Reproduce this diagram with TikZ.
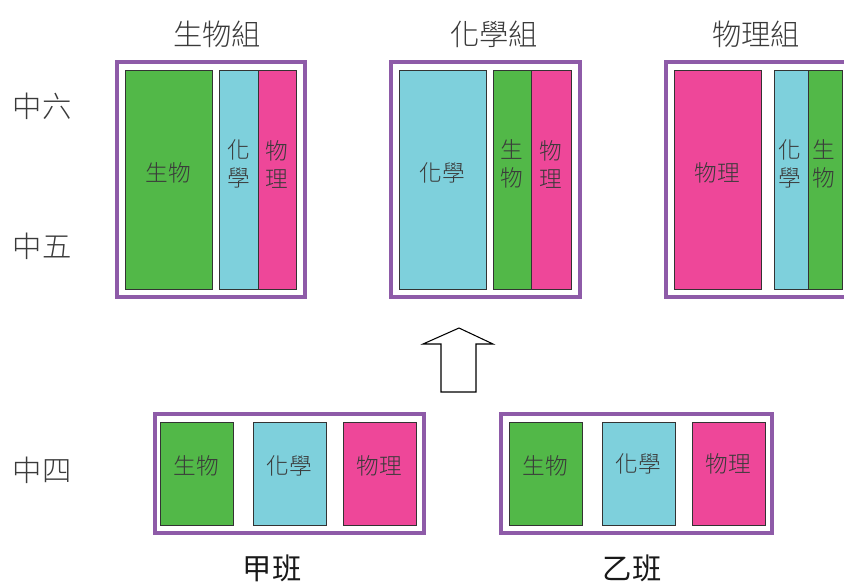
\documentclass[tikz,border=0pt]{standalone}
\usepackage{fontspec}
\setmainfont{Noto Sans CJK TC}[UprightFont=* Light]
\newfontfamily\regcjk{Noto Sans CJK TC}
\begin{document}
\begin{tikzpicture}[x=0.75pt,y=-0.75pt]
\definecolor{cgreen}{HTML}{52B848}
\definecolor{ccyan}{HTML}{7ED0DC}
\definecolor{cpink}{HTML}{EE4799}
\definecolor{cpurple}{HTML}{8E5BA8}
\definecolor{ctext}{HTML}{3A3A3A}
\tikzset{
  grp/.style={draw=cpurple, line width=2.4pt},
  subj/.style={draw=black!80, line width=0.7pt},
  lab/.style={text=ctext, font=\fontsize{17}{21}\selectfont, align=center, inner sep=0pt},
  title/.style={text=ctext, font=\fontsize{22}{26}\selectfont, inner sep=0pt},
  cls/.style={text=black!90, font=\regcjk\fontsize{22}{26}\selectfont, inner sep=0pt},
  arr/.style={draw=black, line width=0.8pt, fill=white}
}
\useasboundingbox (0,0) rectangle (844,582);
\clip (0,0) rectangle (844,582);
% row labels
\node[title] (l6) at (42,106) {中六};
\node[title] (l5) at (42,246) {中五};
\node[title] (l4) at (42,470) {中四};
% titles
\node[title] (t1) at (217,34) {生物組};
\node[title] (t2) at (494,34) {化學組};
\node[title] (t3) at (756,34) {物理組};
% group 1
\draw[grp] (117,62) rectangle (305,297);
\draw[subj, fill=cgreen] (125,70) rectangle (212,289);
\draw[subj, fill=ccyan] (219,70) rectangle (258,289);
\draw[subj, fill=cpink] (258,70) rectangle (296,289);
\node[lab] (g1a) at (168.5,173) {生物};
\node[lab] (g1b) at (238.5,164) {化\\學};
\node[lab] (g1c) at (277,164) {物\\理};
% group 2
\draw[grp] (391,62) rectangle (580,297);
\draw[subj, fill=ccyan] (399,70) rectangle (486,289);
\draw[subj, fill=cgreen] (493,70) rectangle (531,289);
\draw[subj, fill=cpink] (531,70) rectangle (571,289);
\node[lab] (g2a) at (442.5,173) {化學};
\node[lab] (g2b) at (512,164) {生\\物};
\node[lab] (g2c) at (551,164) {物\\理};
% group 3
\draw[grp] (666,62) rectangle (856,297);
\draw[subj, fill=cpink] (674,70) rectangle (761,289);
\draw[subj, fill=ccyan] (774,70) rectangle (808,289);
\draw[subj, fill=cgreen] (808,70) rectangle (842,289);
\node[lab] (g3a) at (717.5,173) {物理};
\node[lab] (g3b) at (790,164) {化\\學};
\node[lab] (g3c) at (824,164) {生\\物};
% arrow
\draw[arr] (441,392) -- (441,344) -- (423,344) -- (459,328) -- (493,344) -- (476,344) -- (476,392) -- cycle;
% class A
\draw[grp] (155,414) rectangle (424,533);
\draw[subj, fill=cgreen] (160,422) rectangle (233,525);
\draw[subj, fill=ccyan] (253,422) rectangle (326,525);
\draw[subj, fill=cpink] (343,422) rectangle (416,525);
\node[lab] (a1) at (196.5,466) {生物};
\node[lab] (a2) at (289.5,466) {化學};
\node[lab] (a3) at (379.5,466) {物理};
\node[cls] (ca) at (272,568) {甲班};
% class B
\draw[grp] (501,414) rectangle (772,533);
\draw[subj, fill=cgreen] (509,422) rectangle (582,525);
\draw[subj, fill=ccyan] (602,422) rectangle (675,525);
\draw[subj, fill=cpink] (692,422) rectangle (765,525);
\node[lab] (b1) at (545.5,466) {生物};
\node[lab] (b2) at (638.5,464) {化學};
\node[lab] (b3) at (728.5,464) {物理};
\node[cls] (cb) at (632,568) {乙班};
\end{tikzpicture}
\end{document}
